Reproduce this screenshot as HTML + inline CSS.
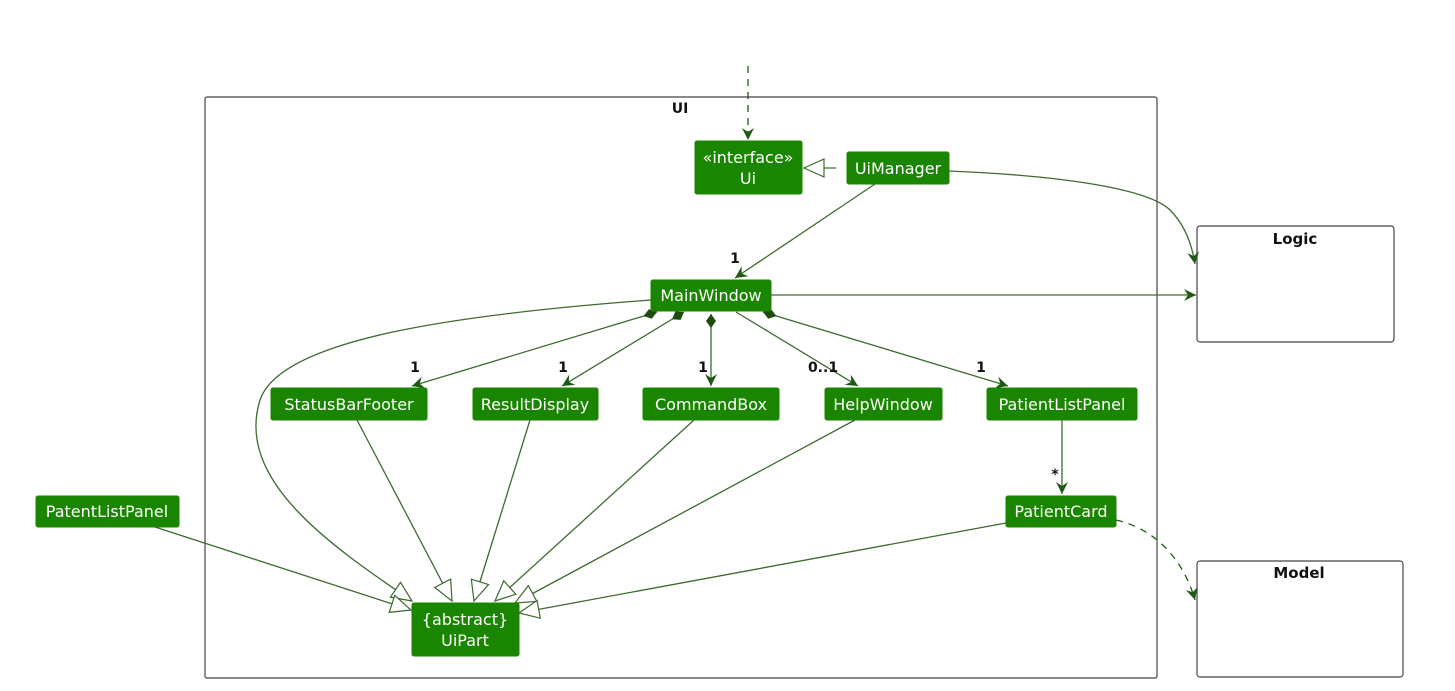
<!DOCTYPE html>
<html><head><meta charset="utf-8"><style>
body{margin:0;background:#fff}
svg{display:block}
.b{fill:#1a8500;stroke:#1a8500;}
.t{font-family:"DejaVu Sans",sans-serif;font-size:16px;fill:#fff;text-anchor:middle}
.l{font-family:"DejaVu Sans",sans-serif;font-size:14px;font-weight:bold;fill:#111;text-anchor:middle}
.e{stroke:#3d6a30;stroke-width:1.3;fill:none}
.d{stroke:#1f5a14;stroke-width:1.3;fill:none;stroke-dasharray:7,6}
</style></head><body>
<svg width="1455" height="691" viewBox="0 0 1455 691">
<defs>
<marker id="a" markerWidth="14" markerHeight="12" refX="12" refY="6" orient="auto" markerUnits="userSpaceOnUse">
<path d="M0,0 L12,6 L0,12 L4,6 Z" fill="#1f5a14"/></marker>
<marker id="h" markerWidth="24" markerHeight="20" refX="21" refY="10" orient="auto" markerUnits="userSpaceOnUse">
<path d="M1,1 L21,10 L1,19 Z" fill="#fff" stroke="#3d6a30" stroke-width="1.2"/></marker>
<marker id="dm" markerWidth="20" markerHeight="12" refX="1" refY="6" orient="auto" markerUnits="userSpaceOnUse">
<path d="M1,6 L8,1 L15,6 L8,11 Z" fill="#1f4a10"/></marker>
</defs>
<rect x="205" y="97" width="952" height="581" rx="2" fill="none" stroke="#444" stroke-width="1.2"/>
<text x="680" y="113" class="l">UI</text>
<rect x="1197" y="226" width="197" height="116" rx="3" fill="none" stroke="#444" stroke-width="1.2"/>
<text x="1295" y="244" class="l" style="font-size:15px">Logic</text>
<rect x="1197" y="561" width="206" height="116" rx="3" fill="none" stroke="#444" stroke-width="1.2"/>
<text x="1299" y="578" class="l" style="font-size:15px">Model</text>

<!-- edges -->
<path class="d" d="M748,66 L748,140" marker-end="url(#a)"/>
<path class="e" d="M836,168 L804,168" marker-end="url(#h)"/>
<path class="e" d="M875,184 L735,278" marker-end="url(#a)"/>
<path class="e" d="M949,171 C1070,176 1150,190 1170,210 C1185,225 1192,245 1195,264" marker-end="url(#a)"/>
<path class="e" d="M771,295 L1196,295" marker-end="url(#a)"/>
<path class="e" d="M657,312 L412,386" marker-start="url(#dm)" marker-end="url(#a)"/>
<path class="e" d="M684,312 L562,386" marker-start="url(#dm)" marker-end="url(#a)"/>
<path class="e" d="M711,314 L711,386" marker-start="url(#dm)" marker-end="url(#a)"/>
<path class="e" d="M736,312 L858,386" marker-end="url(#a)"/>
<path class="e" d="M763,312 L1008,386" marker-start="url(#dm)" marker-end="url(#a)"/>
<path class="e" d="M1062,420 L1062,494" marker-end="url(#a)"/>
<path class="d" d="M1116,520 C1160,530 1185,565 1195,600" marker-end="url(#a)"/>
<path class="e" d="M651,300 C450,315 280,340 260,400 C235,480 330,545 412,601" marker-end="url(#h)"/>
<path class="e" d="M357,420 L452,601" marker-end="url(#h)"/>
<path class="e" d="M530,420 L474,601" marker-end="url(#h)"/>
<path class="e" d="M694,420 L495,601" marker-end="url(#h)"/>
<path class="e" d="M855,420 L515,603" marker-end="url(#h)"/>
<path class="e" d="M1006,523 L519,613" marker-end="url(#h)"/>
<path class="e" d="M155,527 L411,610" marker-end="url(#h)"/>

<!-- labels -->
<text x="735" y="263" class="l">1</text>
<text x="415" y="372" class="l">1</text>
<text x="563" y="372" class="l">1</text>
<text x="703" y="372" class="l">1</text>
<text x="823" y="372" class="l">0..1</text>
<text x="981" y="372" class="l">1</text>
<text x="1055" y="479" class="l">*</text>

<!-- nodes -->
<rect class="b" x="695" y="141" width="107" height="53" rx="2"/>
<text class="t" x="748" y="163">«interface»</text><text class="t" x="748" y="184">Ui</text>
<rect class="b" x="847" y="152" width="102" height="32" rx="2"/><text class="t" x="898" y="174">UiManager</text>
<rect class="b" x="651" y="280" width="120" height="31" rx="2"/><text class="t" x="711" y="301">MainWindow</text>
<rect class="b" x="271" y="388" width="156" height="32" rx="2"/><text class="t" x="349" y="410">StatusBarFooter</text>
<rect class="b" x="473" y="388" width="125" height="32" rx="2"/><text class="t" x="535" y="410">ResultDisplay</text>
<rect class="b" x="643" y="388" width="136" height="32" rx="2"/><text class="t" x="711" y="410">CommandBox</text>
<rect class="b" x="825" y="388" width="117" height="32" rx="2"/><text class="t" x="883" y="410">HelpWindow</text>
<rect class="b" x="987" y="388" width="150" height="32" rx="2"/><text class="t" x="1062" y="410">PatientListPanel</text>
<rect class="b" x="1006" y="496" width="110" height="31" rx="2"/><text class="t" x="1061" y="517">PatientCard</text>
<rect class="b" x="36" y="496" width="143" height="31" rx="2"/><text class="t" x="107" y="517">PatentListPanel</text>
<rect class="b" x="412" y="603" width="107" height="53" rx="2"/>
<text class="t" x="465" y="625">{abstract}</text><text class="t" x="465" y="646">UiPart</text>
</svg>
</body></html>
